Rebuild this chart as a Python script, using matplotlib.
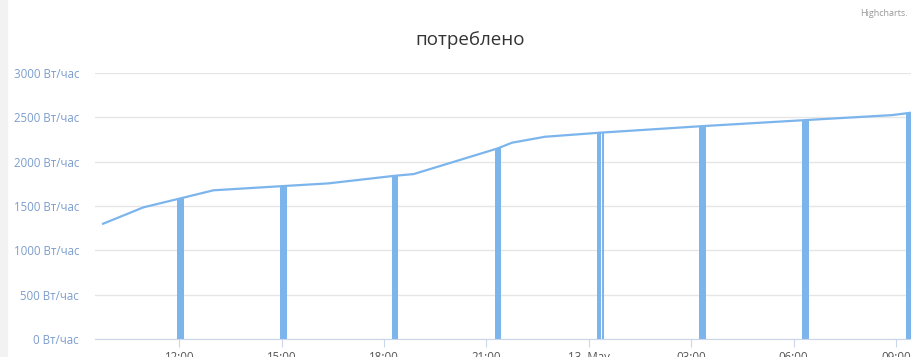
import matplotlib
matplotlib.use('Agg')
import matplotlib.pyplot as plt
import matplotlib.dates as mdates
from datetime import datetime
import matplotlib.patches as mpatches

# data
line_times = ['2015-05-12 09:46', '2015-05-12 10:57', '2015-05-12 12:02', '2015-05-12 13:00',
              '2015-05-12 15:03', '2015-05-12 16:22', '2015-05-12 18:19', '2015-05-12 18:52',
              '2015-05-12 21:20', '2015-05-12 21:45', '2015-05-12 22:43', '2015-05-13 00:18',
              '2015-05-13 03:20', '2015-05-13 06:21', '2015-05-13 08:53', '2015-05-13 09:25']
line_vals = [1300, 1485, 1586, 1677, 1725, 1755, 1841, 1860,
             2150, 2214, 2281, 2326, 2401, 2469, 2525, 2551]

bar_times = ['2015-05-12 12:02', '2015-05-12 15:03', '2015-05-12 18:19', '2015-05-12 21:20',
             '2015-05-13 00:18', '2015-05-13 00:25', '2015-05-13 03:20', '2015-05-13 06:21',
             '2015-05-13 09:23']
bar_vals = [1586, 1725, 1841, 2150, 2326, 2330, 2401, 2469, 2551]

y_ticks = [0, 500, 1000, 1500, 2000, 2500, 3000]
x_ticks = ['2015-05-12 12:00', '2015-05-12 15:00', '2015-05-12 18:00', '2015-05-12 21:00',
           '2015-05-13 00:00', '2015-05-13 03:00', '2015-05-13 06:00', '2015-05-13 09:00']
x_labels = ['12:00', '15:00', '18:00', '21:00', '13. May', '03:00', '06:00', '09:00']

fmt = '%Y-%m-%d %H:%M'
to_num = lambda ts: [mdates.date2num(datetime.strptime(t, fmt)) for t in ts]

hour = 1.0 / 24
bar_w = [0.19 * hour] * len(bar_vals)
bar_w[4] = 0.11 * hour
bar_w[5] = 0.065 * hour

blue = '#7cb5ec'

fig = plt.figure(figsize=(9.11, 3.57), dpi=100)
fig.patches.append(mpatches.Rectangle((0, 0), 7 / 911, 1, transform=fig.transFigure,
                                      color='#f2f2f2', zorder=0))
ax = fig.add_axes([95 / 911, 18 / 357, 1 - 95 / 911, 266 / 357])

x0 = mdates.date2num(datetime(2015, 5, 12, 12, 0))
ax.set_xlim(x0 - 2.47 * hour, x0 + 21.44 * hour)
ax.set_ylim(0, 3000)

ax.bar(to_num(bar_times), bar_vals, width=bar_w, color=blue, linewidth=0, zorder=2)
ax.plot(to_num(line_times), line_vals, color=blue, linewidth=1.6, zorder=3,
        solid_joinstyle='round')

ax.set_yticks(y_ticks)
ax.set_yticklabels(['%d Вт/час' % v for v in y_ticks])
ax.set_xticks(to_num(x_ticks))
ax.set_xticklabels(x_labels)
ax.grid(axis='y', color='#e6e6e6', linewidth=1)
ax.set_axisbelow(True)

for s in ['top', 'right', 'left']:
    ax.spines[s].set_visible(False)
ax.spines['bottom'].set_color('#ccd6eb')
ax.tick_params(axis='y', length=0, pad=11.5, labelsize=8.3, labelcolor='#7b9dcd')
ax.tick_params(axis='x', length=6, color='#ccd6eb', pad=2.5, labelsize=8.3, labelcolor='#555555')
for lbl in ax.get_xticklabels() + ax.get_yticklabels():
    lbl.set_family('Open Sans')

fig.text(470 / 911, 1 - 40 / 357, 'потреблено', ha='center', va='center',
         fontsize=13.5, color='#333333', family='Open Sans')
fig.text(908 / 911, 1 - 13 / 357, 'Highcharts.', ha='right', va='center',
         fontsize=6.5, color='#999999', family='Open Sans')

fig.savefig('out.png', dpi=100)
